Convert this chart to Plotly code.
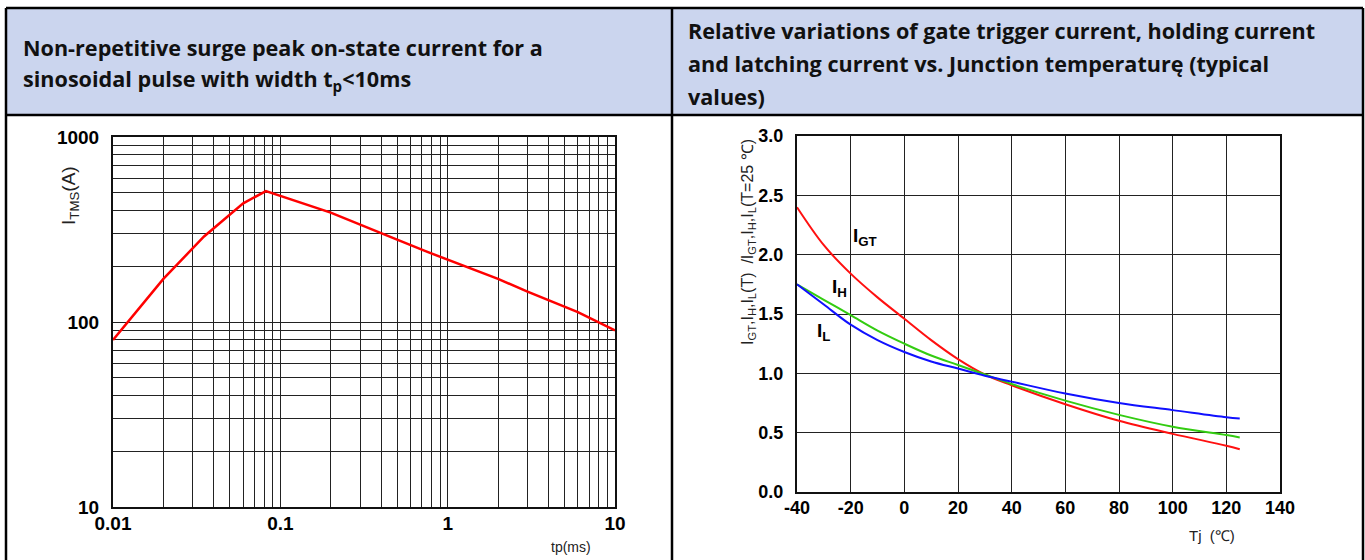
import plotly.graph_objects as go

# ---------------- data ----------------
# Left chart: surge current vs pulse width
tp_ms = [0.01, 0.02, 0.035, 0.06, 0.082, 0.2, 0.4, 0.75, 2, 3, 6, 10]
itsm_a = [80, 171, 290, 438, 510, 390, 302, 240, 171, 146, 113, 90]
left_xticks = [0.01, 0.1, 1, 10]
left_xtext = ["0.01", "0.1", "1", "10"]
left_yticks = [10, 100, 1000]
left_ytext = ["10", "100", "1000"]

# Right chart: relative variation vs junction temperature
tj_c = [-40, -30, -20, -10, 0, 10, 20, 30, 40, 60, 80, 100, 120, 125]
igt_rel = [2.40, 2.08, 1.84, 1.64, 1.46, 1.28, 1.12, 0.99, 0.90, 0.74, 0.60, 0.49, 0.39, 0.36]
ih_rel = [1.75, 1.62, 1.49, 1.36, 1.25, 1.15, 1.07, 0.99, 0.91, 0.77, 0.65, 0.55, 0.48, 0.46]
il_rel = [1.75, 1.58, 1.41, 1.28, 1.18, 1.10, 1.04, 0.98, 0.93, 0.83, 0.75, 0.69, 0.63, 0.62]
right_xticks = [-40, -20, 0, 20, 40, 60, 80, 100, 120, 140]
right_xtext = ["-40", "-20", "0", "20", "40", "60", "80", "100", "120", "140"]
right_yticks = [0.0, 0.5, 1.0, 1.5, 2.0, 2.5, 3.0]
right_ytext = ["0.0", "0.5", "1.0", "1.5", "2.0", "2.5", "3.0"]

header_left = ["Non-repetitive surge peak on-state current for a",
               "sinosoidal pulse with width t<sub>p</sub><10ms"]
header_right = ["Relative variations of gate trigger current, holding current",
                "and latching current vs. Junction temperaturę (typical",
                "values)"]

# ---------------- layout helpers ----------------
W, H = 1365, 560
def px(x):
    return x / W
def py(y):
    return 1 - y / H
def bold(lst):
    return ["<b>" + s + "</b>" for s in lst]

minor_x = [m * d for d in (0.01, 0.1, 1) for m in range(2, 10)]
minor_y = [m * d for d in (10, 100) for m in range(2, 10)]

GRID = "#222222"
TICKFONT = dict(family="Liberation Sans, Arial", size=19, color="#000")

fig = go.Figure()

fig.add_trace(go.Scatter(x=tp_ms, y=itsm_a, mode="lines",
                         line=dict(color="#ff0000", width=2.5),
                         xaxis="x", yaxis="y", showlegend=False,
                         hoverinfo="skip"))

fig.add_trace(go.Scatter(x=tj_c, y=igt_rel, mode="lines", line_shape="spline",
                         line=dict(color="#ff1010", width=2),
                         xaxis="x2", yaxis="y2", showlegend=False))
fig.add_trace(go.Scatter(x=tj_c, y=ih_rel, mode="lines", line_shape="spline",
                         line=dict(color="#33cc11", width=2),
                         xaxis="x2", yaxis="y2", showlegend=False))
fig.add_trace(go.Scatter(x=tj_c, y=il_rel, mode="lines", line_shape="spline",
                         line=dict(color="#1010ff", width=2),
                         xaxis="x2", yaxis="y2", showlegend=False))

axis_common = dict(showline=True, linecolor="#111", linewidth=2, mirror=True,
                   gridcolor=GRID, gridwidth=1.3, zeroline=False, automargin=False,
                   ticks="", tickfont=TICKFONT, ticklabelstandoff=-2)

fig.update_layout(
    width=W, height=H,
    margin=dict(l=0, r=0, t=0, b=0, pad=0, autoexpand=False),
    paper_bgcolor="white", plot_bgcolor="white",
    xaxis=dict(axis_common, type="log", domain=[px(113), px(615)],
               range=[-2, 1], tickvals=left_xticks, ticktext=bold(left_xtext),
               minor=dict(tickvals=minor_x, showgrid=True, gridcolor=GRID,
                          gridwidth=1.3, ticks=""),
               anchor="y"),
    yaxis=dict(axis_common, type="log", domain=[py(507), py(137)],
               range=[1, 3], tickvals=left_yticks, ticktext=bold(left_ytext),
               minor=dict(tickvals=minor_y, showgrid=True, gridcolor=GRID,
                          gridwidth=1.3, ticks=""),
               anchor="x", ticklabelstandoff=8),
    xaxis2=dict(axis_common, domain=[px(797), px(1280)], range=[-40, 140],
                tickvals=right_xticks, ticktext=bold(right_xtext), anchor="y2",
                tickfont=dict(TICKFONT, size=18)),
    yaxis2=dict(axis_common, domain=[py(492), py(136)], range=[0, 3],
                tickvals=right_yticks, ticktext=bold(right_ytext), anchor="x2",
                tickfont=dict(TICKFONT, size=18), ticklabelstandoff=8),
)

# ---------------- table frame ----------------
HEADER_BG = "#cbd5ee"
shapes = [
    dict(type="rect", xref="paper", yref="paper", x0=px(6), x1=px(672),
         y0=py(115), y1=py(8), fillcolor=HEADER_BG, line_width=0, layer="below"),
    dict(type="rect", xref="paper", yref="paper", x0=px(672), x1=px(1363),
         y0=py(115), y1=py(8), fillcolor=HEADER_BG, line_width=0, layer="below"),
]
for (x0, y0, x1, y1) in [(6, 8, 1363, 8), (6, 115, 1363, 115),
                         (6, 8, 6, 560), (672, 8, 672, 560), (1363, 8, 1363, 560)]:
    shapes.append(dict(type="line", xref="paper", yref="paper",
                       x0=px(x0), x1=px(x1), y0=py(y0), y1=py(y1),
                       line=dict(color="black", width=2.5)))
fig.update_layout(shapes=shapes)

HFONT = dict(family="Open Sans, Noto Sans, sans-serif", size=21.6, color="#111")
ann = []
for i, t in enumerate(header_left):
    ann.append(dict(text="<b>" + t + "</b>", xref="paper", yref="paper",
                    x=px(21), y=py(47 + 33 * i), xanchor="left", yanchor="middle",
                    align="left", showarrow=False, font=HFONT))
for i, t in enumerate(header_right):
    ann.append(dict(text="<b>" + t + "</b>", xref="paper", yref="paper",
                    x=px(686), y=py(30 + 33 * i), xanchor="left", yanchor="middle",
                    align="left", showarrow=False, font=HFONT))

AFONT = dict(family="Liberation Sans, Arial", size=14, color="#222")
ann += [
    dict(text="I<sub>TMS</sub>(A)", xref="paper", yref="paper", x=px(70), y=py(196),
         xanchor="center", yanchor="middle",
         textangle=-90, showarrow=False, font=dict(AFONT, size=19)),
    dict(text="tp(ms)", xref="paper", yref="paper", x=px(571), y=py(547),
         xanchor="center", yanchor="middle", showarrow=False, font=AFONT),
    dict(text="I<sub>GT</sub>,I<sub>H</sub>,I<sub>L</sub>(T)  /I<sub>GT</sub>,I<sub>H</sub>,I<sub>L</sub>(T=25 ℃)",
         xref="paper", yref="paper", x=px(748), y=py(242),
         xanchor="center", yanchor="middle",
         textangle=-90, showarrow=False, font=dict(AFONT, size=16)),
    dict(text="Tj  (℃)", xref="paper", yref="paper", x=px(1212), y=py(535),
         xanchor="center", yanchor="middle", showarrow=False, font=dict(AFONT, size=15)),
]
LFONT = dict(family="Liberation Sans, Arial", size=19, color="#000")
for lbl, xv, yv in [("GT", -14.5, 2.15), ("H", -24, 1.72), ("L", -30, 1.35)]:
    ann.append(dict(text="<b>I<sub>" + lbl + "</sub></b>", xref="x2", yref="y2",
                    x=xv, y=yv, xanchor="center", yanchor="middle",
                    showarrow=False, font=LFONT))
fig.update_layout(annotations=ann)

fig.write_html("out.html")
